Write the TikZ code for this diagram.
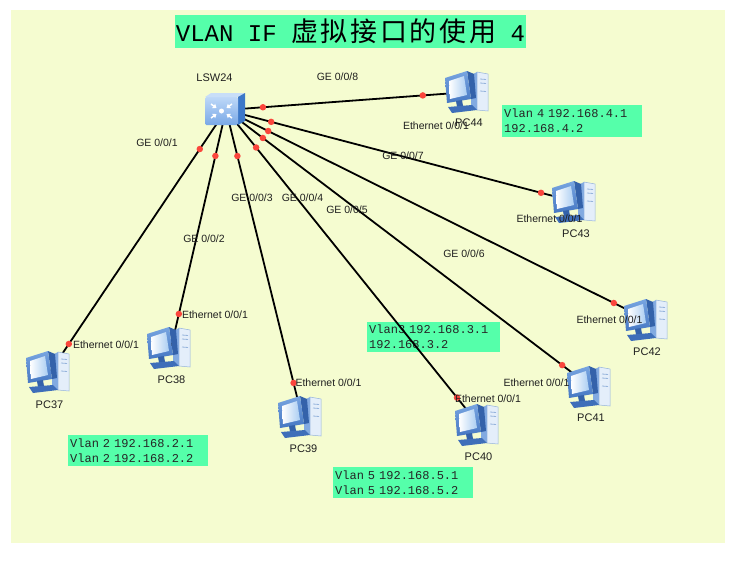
\documentclass[tikz,border=0pt]{standalone}
\usepackage{fontspec}
\newfontfamily\labfont{Liberation Sans}
\newfontfamily\monofont{Liberation Mono}
\newfontfamily\cjkfont[LetterSpace=10]{Noto Sans CJK SC}
\usetikzlibrary{arrows.meta}
\definecolor{bgyellow}{RGB}{245,252,208}
\definecolor{vgreen}{RGB}{85,255,170}
\definecolor{portred}{RGB}{250,70,60}
\definecolor{pcdark}{RGB}{52,98,170}
\definecolor{pcmidA}{RGB}{120,165,225}
\definecolor{pcmidB}{RGB}{70,120,195}
\definecolor{pcscreen}{RGB}{170,205,242}
\definecolor{pcbase}{RGB}{62,110,185}
\definecolor{pctowerside}{RGB}{130,170,225}
\definecolor{pctower}{RGB}{228,238,250}
\definecolor{pcedge}{RGB}{150,180,220}
\definecolor{swtop}{RGB}{200,222,248}
\definecolor{swside}{RGB}{60,120,200}
\definecolor{swfrontA}{RGB}{190,216,248}
\definecolor{swfrontB}{RGB}{120,168,230}
\pgfdeclarelayer{bg}
\pgfdeclarelayer{wires}
\pgfsetlayers{bg,wires,main}
\tikzset{
  dev/.style={inner sep=0pt, minimum size=0pt, outer sep=0pt},
  link/.style={line width=1.8pt, black},
  dot/.style={circle, fill=portred, inner sep=0pt, minimum size=6.5pt},
  lab/.style={font=\labfont\fontsize{10.5}{12}\selectfont, inner sep=0pt, text=black!88},
  pclab/.style={font=\labfont\fontsize{11}{13}\selectfont, inner sep=0pt, text=black!88},
  vbox/.style={fill=vgreen, anchor=north west, align=left, inner xsep=2pt, inner ysep=0pt,
    font=\monofont\fontsize{12}{15}\selectfont, text=black!85},
  pc/.pic={
    \fill[pctowerside] (2,-17) -- (8,-20) -- (8,18) -- (2,16) -- cycle;
    \filldraw[fill=pctower, draw=pcedge, line width=0.5pt] (8,-20) -- (19,-18) -- (19,19) -- (8,18) -- cycle;
    \draw[pcedge, line width=0.8pt] (11,-13) -- (17,-12.5) (11,-9) -- (17,-8.5) (11,-1) -- (17,-0.5);
    \fill[pcdark] (-2,-21) -- (5,-18) -- (7,6) -- (2,7) -- cycle;
    \shade[top color=pcmidA, bottom color=pcmidB] (-24,-14) -- (-2,-21) -- (2,7) -- (-22,11) -- cycle;
    \shade[left color=white, right color=pcscreen] (-20,-11) -- (-5,-16) -- (-2,3) -- (-19,7) -- cycle;
    \fill[pcdark] (-13,9) -- (-7,8) -- (-6,14) -- (-12,15) -- cycle;
    \fill[pcbase] (-21,15) -- (3,13) -- (8,18) -- (-17,21) -- cycle;
  },
  switchicon/.pic={
    \fill[swtop] (-21,-13) -- (-15,-17) -- (19,-17) -- (12,-13) -- cycle;
    \fill[swside] (12,-13) -- (19,-17) -- (19,11) -- (12,15) -- cycle;
    \shade[top color=swfrontA, bottom color=swfrontB, rounded corners=1.5pt] (-21,-13) rectangle (12,15);
    \begin{scope}[white, line width=1.5pt, -{Triangle[length=3.5pt,width=5pt]}]
      \draw (-15,-6) -- (-9.5,-2);
      \draw (6,-6) -- (0.5,-2);
      \draw (-15,8) -- (-9.5,4);
      \draw (6,8) -- (0.5,4);
    \end{scope}
    \fill[white] (-4.5,1) circle (2.5);
  }
}
\begin{document}
\begin{tikzpicture}[x=1pt,y=-1pt]
\useasboundingbox (0,0) rectangle (737,565);
\begin{pgfonlayer}{bg}
  \fill[bgyellow] (11,10) rectangle (725,543);
  \node[vbox, text width=136pt, minimum height=32pt] (v4) at (502,105) {Vlan 4 192.168.4.1\\192.168.4.2};
  \node[vbox, text width=129pt, minimum height=30pt] (v3) at (367,322) {Vlan3 192.168.3.1\\192.168.3.2};
  \node[vbox, text width=136pt, minimum height=31pt] (v5) at (333,467) {Vlan 5 192.168.5.1\\Vlan 5 192.168.5.2};
  \node[vbox, text width=136pt, minimum height=31pt] (v2) at (68,435) {Vlan 2 192.168.2.1\\Vlan 2 192.168.2.2};
\end{pgfonlayer}

\node[fill=vgreen, minimum width=351pt, minimum height=33pt, inner sep=0pt] (title) at (350.5,31.5)
  {{\monofont\fontsize{24}{28}\selectfont VLAN IF }{\cjkfont\fontsize{27}{28}\selectfont 虚拟接口的使用}{\monofont\fontsize{24}{28}\selectfont ~4}};

% devices
\node[dev] (sw) at (226,110) {};
\pic at (sw) {switchicon};
\node[dev] (pc44) at (469,92) {};
\node[dev] (pc43) at (576,202) {};
\node[dev] (pc42) at (648,320) {};
\node[dev] (pc41) at (591,387) {};
\node[dev] (pc40) at (479,425) {};
\node[dev] (pc39) at (302,417) {};
\node[dev] (pc38) at (171,348) {};
\node[dev] (pc37) at (50,372) {};
\foreach \p in {pc44,pc43,pc42,pc41,pc40,pc39,pc38,pc37} { \pic at (\p) {pc}; }

\begin{pgfonlayer}{wires}
  \draw[link] (sw) -- node[dot,pos=0.152] (d8a) {} node[dot,pos=0.81] (d8b) {} (pc44);
  \draw[link] (sw) -- node[dot,pos=0.129] (d7a) {} node[dot,pos=0.90] (d7b) {} (pc43);
  \draw[link] (sw) -- node[dot,pos=0.10] (d6a) {} node[dot,pos=0.919] (d6b) {} (pc42);
  \draw[link] (sw) -- node[dot,pos=0.101] (d5a) {} node[dot,pos=0.921] (d5b) {} (pc41);
  \draw[link] (sw) -- node[dot,pos=0.119] (d4a) {} node[dot,pos=0.913] (d4b) {} (pc40);
  \draw[link] (sw) -- node[dot,pos=0.15] (d3a) {} node[dot,pos=0.889] (d3b) {} (pc39);
  \draw[link] (sw) -- node[dot,pos=0.193] (d2a) {} node[dot,pos=0.857] (d2b) {} (pc38);
  \draw[link] (sw) -- node[dot,pos=0.149] (d1a) {} node[dot,pos=0.893] (d1b) {} (pc37);
\end{pgfonlayer}

% device labels
\node[pclab] (lsw) at (214.5,78) {LSW24};
\node[pclab] (l44) at (469,123) {PC44};
\node[pclab] (l43) at (576,234) {PC43};
\node[pclab] (l42) at (647,352) {PC42};
\node[pclab] (l41) at (591,418) {PC41};
\node[pclab] (l40) at (478.5,457) {PC40};
\node[pclab] (l39) at (303.5,449) {PC39};
\node[pclab] (l38) at (171.5,380) {PC38};
\node[pclab] (l37) at (49.5,405) {PC37};

% port labels (switch side)
\node[lab] (g8) at (337.5,77) {GE 0/0/8};
\node[lab] (g7) at (403,156) {GE 0/0/7};
\node[lab] (g6) at (464,254) {GE 0/0/6};
\node[lab] (g5) at (347,210) {GE 0/0/5};
\node[lab] (g4) at (302.5,198) {GE 0/0/4};
\node[lab] (g3) at (252,198) {GE 0/0/3};
\node[lab] (g2) at (204,239) {GE 0/0/2};
\node[lab] (g1) at (157,143) {GE 0/0/1};

% port labels (PC side)
\node[lab] (e44) at (436,126) {Ethernet 0/0/1};
\node[lab] (e43) at (549.5,219) {Ethernet 0/0/1};
\node[lab] (e42) at (609.5,320) {Ethernet 0/0/1};
\node[lab] (e41) at (536.5,383) {Ethernet 0/0/1};
\node[lab] (e40) at (488,399) {Ethernet 0/0/1};
\node[lab] (e39) at (328.5,383) {Ethernet 0/0/1};
\node[lab] (e38) at (215,315) {Ethernet 0/0/1};
\node[lab] (e37) at (106,345) {Ethernet 0/0/1};
\end{tikzpicture}
\end{document}
